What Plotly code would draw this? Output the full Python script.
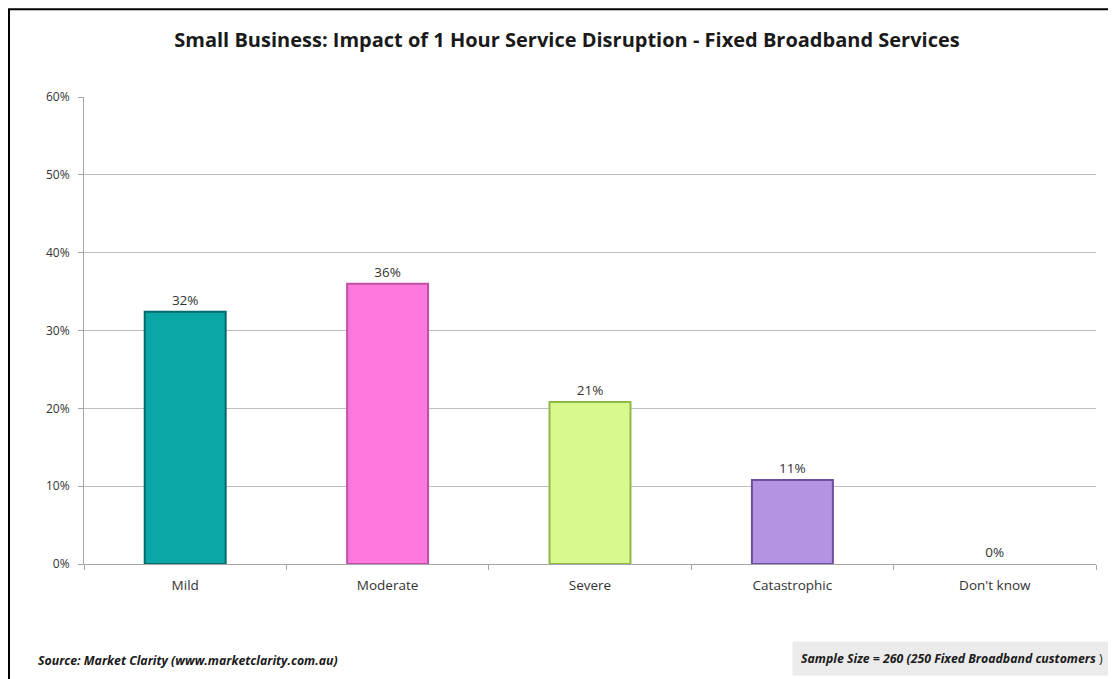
import plotly.graph_objects as go

categories = ["Mild", "Moderate", "Severe", "Catastrophic", "Don't know"]
impact_pct = [32.4, 36.0, 20.8, 10.8, 0.0]
value_labels = ["32%", "36%", "21%", "11%", "0%"]
bar_colors = ["#0BA6A6", "#FF78DC", "#D8F98E", "#B393E3", "#CCCCCC"]
edge_colors = ["#056B6B", "#C04FA6", "#8FB84A", "#6E4F9E", "#999999"]
edge_widths = [2, 2, 2, 2, 0]
y_ticks = [0, 10, 20, 30, 40, 50, 60]
y_tick_labels = [f"{v}%" for v in y_ticks]

FONT = "Open Sans, Noto Sans, sans-serif"

fig = go.Figure()
fig.add_trace(go.Bar(
    x=categories,
    y=impact_pct,
    text=value_labels,
    textposition="outside",
    cliponaxis=False,
    textfont=dict(size=13.5, color="#333333", family=FONT),
    marker=dict(color=bar_colors, line=dict(color=edge_colors, width=edge_widths)),
    width=0.4,
    showlegend=False,
    hoverinfo="skip",
))

# page body adds an 8px offset, so the figure is 8px smaller than the window
fig.update_layout(
    width=1108,
    height=671,
    margin=dict(l=76, r=20, t=89, b=115),
    paper_bgcolor="white",
    plot_bgcolor="white",
    font=dict(family=FONT, size=12, color="#333333"),
    title=dict(
        text="<b>Small Business: Impact of 1 Hour Service Disruption - Fixed Broadband Services</b>",
        x=0.5045, xanchor="center", y=0.952, yanchor="middle",
        font=dict(size=20, color="#1a1a1a", family=FONT),
    ),
    xaxis=dict(
        showgrid=False,
        showline=True, linecolor="#A6A6A6", linewidth=1,
        ticks="outside", tickson="boundaries", ticklen=5, tickcolor="#A6A6A6",
        ticklabelstandoff=9,
        tickfont=dict(size=13.5, color="#333333"),
    ),
    yaxis=dict(
        range=[0, 60],
        tickvals=y_ticks,
        ticktext=y_tick_labels,
        showgrid=True, gridcolor="#BFBFBF", gridwidth=1,
        showline=True, linecolor="#A6A6A6", linewidth=1,
        ticks="outside", ticklen=5, tickcolor="#A6A6A6",
        ticklabelstandoff=6,
        tickfont=dict(size=12, color="#333333"),
        zeroline=False,
    ),
    shapes=[
        # outer frame of the chart image
        dict(type="rect", xref="paper", yref="paper",
             x0=-0.0741, x1=1.05, y0=-0.4, y1=1.188,
             line=dict(color="black", width=2), fillcolor="rgba(0,0,0,0)", layer="below"),
    ],
    annotations=[
        dict(text="<b><i>Source: Market Clarity (www.marketclarity.com.au)</i></b>",
             xref="paper", yref="paper", x=-0.0474, y=-0.2056,
             xanchor="left", yanchor="middle", showarrow=False,
             font=dict(size=12.3, color="#1a1a1a")),
        dict(text="<b><i>Sample Size = 260 (250 Fixed Broadband customers </i></b>)",
             xref="paper", yref="paper", x=1.016, y=-0.2013,
             xanchor="right", yanchor="middle", showarrow=False,
             bgcolor="#EBEBEB", borderpad=8,
             font=dict(size=12.3, color="#1a1a1a")),
    ],
)

fig.write_html("out.html")
